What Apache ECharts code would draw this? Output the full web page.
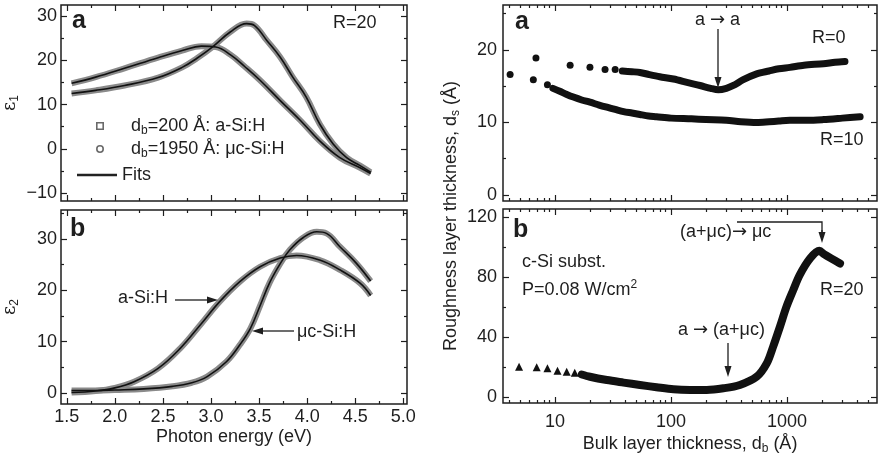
<!DOCTYPE html>
<html>
<head>
<meta charset="utf-8">
<script src="https://cdn.jsdelivr.net/npm/echarts@6/dist/echarts.min.js"></script>
<style>
  html, body { margin: 0; padding: 0; background: #fff; }
  #chart { width: 880px; height: 461px; }
</style>
</head>
<body>
<div id="chart"></div>
<script>
// left panels: [photon energy (eV), epsilon]
const eps1ASi = [[1.55, 14.8], [1.8, 16.2], [2.1, 18.2], [2.45, 20.6], [2.7, 22.2], [2.9, 23.2], [3.05, 23.0], [3.2, 21.3], [3.35, 18.6], [3.51, 15.5], [3.72, 10.9], [3.93, 6.4], [4.13, 1.8], [4.34, -2.0], [4.55, -4.3], [4.66, -5.6]];
const eps1UcSi = [[1.55, 12.5], [1.8, 13.2], [2.1, 14.3], [2.45, 16.1], [2.7, 18.4], [2.85, 20.4], [3.02, 23.1], [3.2, 26.4], [3.37, 28.3], [3.45, 27.9], [3.58, 24.5], [3.72, 20.7], [3.85, 16.2], [3.99, 11.7], [4.13, 5.6], [4.27, 1.1], [4.41, -2.0], [4.55, -3.8], [4.66, -5.3]];
const eps2ASi = [[1.55, 0.1], [1.8, 0.4], [2.0, 1.0], [2.2, 2.2], [2.45, 4.8], [2.68, 8.7], [2.89, 13.3], [3.09, 17.8], [3.3, 21.7], [3.51, 24.6], [3.72, 26.3], [3.89, 26.8], [4.13, 25.9], [4.34, 24.0], [4.55, 21.4], [4.66, 19.0]];
const eps2UcSi = [[1.55, 0.5], [1.8, 0.5], [2.0, 0.6], [2.3, 0.8], [2.6, 1.3], [2.8, 2.0], [2.96, 3.2], [3.16, 6.1], [3.3, 9.4], [3.41, 12.6], [3.51, 17.0], [3.61, 21.5], [3.72, 25.2], [3.82, 27.9], [3.96, 30.3], [4.1, 31.4], [4.2, 31.1], [4.34, 28.5], [4.51, 25.3], [4.66, 21.8]];

// right panels: [bulk thickness d_b (Å), roughness d_s (Å)]
const r0Sparse = [[6.85, 18.9], [13.5, 17.9], [20, 17.6], [27, 17.3], [33, 17.3]];
const r0Dense = [[38, 17.1], [46, 17.0], [54, 16.9], [65, 16.6], [80, 16.3], [105, 16.0], [140, 15.5], [178, 15.1], [220, 14.7], [256, 14.5], [300, 14.7], [345, 15.1], [420, 15.9], [548, 16.7], [700, 17.1], [850, 17.4], [1060, 17.6], [1400, 17.9], [2060, 18.1], [2600, 18.3], [3160, 18.4]];
const r10Sparse = [[4.1, 16.6], [6.5, 15.9], [8.6, 15.2]];
const r10Dense = [[9.6, 14.7], [11, 14.3], [12.5, 13.9], [14.4, 13.5], [17, 13.1], [20, 12.8], [24, 12.4], [28, 12.1], [33, 11.8], [39, 11.5], [46, 11.3], [54, 11.1], [64, 10.9], [75, 10.8], [100, 10.6], [150, 10.5], [200, 10.4], [300, 10.3], [400, 10.1], [550, 10.0], [700, 10.1], [850, 10.2], [1060, 10.3], [1500, 10.3], [2060, 10.4], [3000, 10.6], [4270, 10.8]];
const r20Sparse = [[4.9, 20.2], [6.95, 19.8], [8.6, 19.1], [10.5, 17.5], [12.6, 16.9], [14.8, 16.2]];
const r20Dense = [[17, 15.0], [20, 13.5], [28, 11.3], [39, 9.6], [54, 8.0], [75, 6.5], [105, 5.1], [146, 4.7], [203, 4.7], [283, 5.8], [392, 8.0], [548, 13.5], [669, 22.4], [759, 33.5], [870, 46.9], [990, 60.2], [1132, 71.3], [1285, 81.3], [1585, 92.5], [1900, 97.5], [2100, 95.0], [2865, 89.0]];

// ticks
const energyMajor = [1.5, 2.0, 2.5, 3.0, 3.5, 4.0, 4.5, 5.0];
const energyMinor = [1.75, 2.25, 2.75, 3.25, 3.75, 4.25, 4.75];
const eps1Major = [-10, 0, 10, 20, 30];
const eps1Minor = [-5, 5, 15, 25];
const eps2Major = [0, 10, 20, 30];
const eps2Minor = [5, 15, 25, 35];
const thickMajor = [10, 100, 1000];
const thickMinor = [4, 5, 6, 7, 8, 9, 20, 30, 40, 50, 60, 70, 80, 90, 200, 300, 400, 500, 600, 700, 800, 900, 2000, 3000, 4000, 5000];
const roughAMajor = [0, 10, 20];
const roughAMinor = [5, 15, 25];
const roughBMajor = [0, 40, 80, 120];
const roughBMinor = [20, 60, 100];

const INK = '#1e1e1e';
const FONT = '"Liberation Sans", Arial, sans-serif';
const SUB = { fontSize: 12, fontFamily: FONT, color: INK, padding: [10, 0, 0, 0] };
const SUP = { fontSize: 12, fontFamily: FONT, color: INK, padding: [0, 0, 10, 0] };
const N = { fontSize: 18, fontFamily: FONT, color: INK };
const ARR = { fontSize: 18, fontFamily: '"DejaVu Sans", sans-serif', color: INK };

const chart = echarts.init(document.getElementById('chart'));

const grids = [
  { left: 61, top: 5, width: 346, height: 196 },
  { left: 61, top: 210, width: 346, height: 194 },
  { left: 503, top: 5, width: 374, height: 196 },
  { left: 503, top: 209, width: 374, height: 194 },
].map(g => Object.assign(g, {
  show: true, borderColor: INK, borderWidth: 1.5, containLabel: false, outerBoundsMode: 'none',
}));

const xAxes = [];
const yAxes = [];
const minus = v => String(v).replace('-', '\u2212');

// every side of a frame gets inward major + minor ticks; only the first side carries labels
function frame(list, grid, base, sides, major, minor, label, name) {
  sides.forEach((pos, i) => {
    const main = i === 0;
    list.push(Object.assign({}, base, {
      gridIndex: grid,
      position: pos,
      axisLine: { show: false, onZero: false },
      splitLine: { show: false },
      axisTick: { show: true, inside: true, length: 6, customValues: major, lineStyle: { color: INK, width: 1.2 } },
      axisLabel: main && label
        ? Object.assign({ show: true, customValues: major, color: INK, fontSize: 18, fontFamily: FONT }, label)
        : { show: false },
    }, main && name ? name : {}));
    list.push(Object.assign({}, base, {
      gridIndex: grid,
      position: pos,
      axisLine: { show: false, onZero: false },
      splitLine: { show: false },
      axisTick: { show: true, inside: true, length: 3, customValues: minor, lineStyle: { color: INK, width: 1.2 } },
      axisLabel: { show: false },
    }));
  });
}

const energyAxis = { type: 'value', min: 1.44, max: 5.038 };
const thickAxis = { type: 'log', logBase: 10, min: 3.56, max: 5970 };

// grid 0: eps1
frame(xAxes, 0, energyAxis, ['bottom', 'top'], energyMajor, energyMinor, null, null);
frame(yAxes, 0, { type: 'value', min: -11.8, max: 32.5 }, ['left', 'right'], eps1Major, eps1Minor,
  { margin: 4, formatter: minus },
  { name: '{e|\u03b5}{s|1}', nameLocation: 'middle', nameRotate: 90, nameGap: 40,
    nameTextStyle: { rich: { e: { fontSize: 18, fontFamily: '"DejaVu Serif", serif', color: INK }, s: SUB } } });
// grid 1: eps2
frame(xAxes, 1, energyAxis, ['bottom', 'top'], energyMajor, energyMinor,
  { margin: 4, formatter: v => v.toFixed(1) },
  { name: 'Photon energy (eV)', nameLocation: 'middle', nameGap: 24,
    nameTextStyle: { fontSize: 18, fontFamily: FONT, color: INK } });
frame(yAxes, 1, { type: 'value', min: -2.14, max: 35.65 }, ['left', 'right'], eps2Major, eps2Minor,
  { margin: 4 },
  { name: '{e|\u03b5}{s|2}', nameLocation: 'middle', nameRotate: 90, nameGap: 40,
    nameTextStyle: { rich: { e: { fontSize: 18, fontFamily: '"DejaVu Serif", serif', color: INK }, s: SUB } } });
// grid 2: roughness, R=0 / R=10
frame(xAxes, 2, thickAxis, ['bottom', 'top'], thickMajor, thickMinor, null, null);
frame(yAxes, 2, { type: 'value', min: -0.83, max: 26.2 }, ['left', 'right'], roughAMajor, roughAMinor,
  { margin: 6 }, null);
// grid 3: roughness, R=20
frame(xAxes, 3, thickAxis, ['bottom', 'top'], thickMajor, thickMinor,
  { margin: 10, formatter: v => String(Math.round(v)) },
  { name: '{n|Bulk layer thickness, d}{s|b}{n| (\u00c5)}', nameLocation: 'middle', nameGap: 30,
    nameTextStyle: { rich: { n: N, s: SUB } } });
frame(yAxes, 3, { type: 'value', min: -4, max: 125.3 }, ['left', 'right'], roughBMajor, roughBMinor,
  { margin: 6 }, null);

// measured spectra: grey band of open markers, fit drawn on top in black
function band(name, data, grid) {
  return {
    type: 'line', name, data, xAxisIndex: grid * 4, yAxisIndex: grid * 4, smooth: 0.4,
    showSymbol: false, itemStyle: { color: '#6a6a6a' },
    lineStyle: { color: '#8a8a8a', width: 6 },
    z: 2,
  };
}
function fit(data, grid) {
  return {
    type: 'line', name: 'Fits', data, xAxisIndex: grid * 4, yAxisIndex: grid * 4, smooth: 0.4,
    showSymbol: false, itemStyle: { color: '#111' }, lineStyle: { color: '#111', width: 1.6 }, z: 5,
  };
}
function dots(name, data, grid, symbol, size) {
  return {
    type: 'scatter', name, data, xAxisIndex: grid * 4, yAxisIndex: grid * 4,
    symbol, symbolSize: size, itemStyle: { color: '#111', opacity: 1 },
  };
}
function dense(name, data, grid, width) {
  return {
    type: 'line', name, data, xAxisIndex: grid * 4, yAxisIndex: grid * 4, smooth: 0.3,
    showSymbol: false, lineStyle: { color: '#111', width, cap: 'round', join: 'round' },
  };
}

const series = [
  band('d200', eps1ASi, 0),
  band('d1950', eps1UcSi, 0),
  fit(eps1ASi, 0),
  fit(eps1UcSi, 0),
  band('e2a', eps2ASi, 1),
  band('e2uc', eps2UcSi, 1),
  fit(eps2ASi, 1),
  fit(eps2UcSi, 1),
  dots('R=0', r0Sparse, 2, 'circle', 7),
  dense('R=0', r0Dense, 2, 7),
  dots('R=10', r10Sparse, 2, 'circle', 7),
  dense('R=10', r10Dense, 2, 7),
  dots('R=20', r20Sparse, 3, 'triangle', 8),
  dense('R=20', r20Dense, 3, 8),
];

const squareIcon = 'path://M0,0H10V10H0Z M2,2V8H8V2Z';
const ringIcon = 'path://M5,0A5,5 0 1,1 5,10A5,5 0 1,1 5,0Z M5,2A3,3 0 1,0 5,8A3,3 0 1,0 5,2Z';
const legendText = {
  d200: '{p|d}{s|b}{n|=200 \u00c5: a-Si:H}',
  d1950: '{p|d}{s|b}{n|=1950 \u00c5: \u03bcc-Si:H}',
  Fits: '{n|Fits}',
};
function legend(name, icon, color, left, top, w, h) {
  return {
    data: [{ name, icon, itemStyle: { color, borderWidth: 0 } }],
    left, top, padding: 0, itemWidth: w, itemHeight: h, selectedMode: false,
    formatter: n => legendText[n],
    textStyle: { rich: { n: N, s: SUB, p: Object.assign({}, N, { padding: [0, 0, 0, 11] }) } },
  };
}
const legends = [
  legend('d200', squareIcon, '#6a6a6a', 96, 117, 30, 8),
  legend('d1950', ringIcon, '#6a6a6a', 96, 140, 30, 8),
  legend('Fits', 'rect', '#222', 77, 166, 40, 2.5),
];

function txt(x, y, text, extra) {
  return {
    type: 'text', x, y, z: 10,
    style: Object.assign({ text, fontSize: 18, fontFamily: FONT, fill: INK, verticalAlign: 'middle' }, extra || {}),
  };
}
function arrow(x1, y1, x2, y2) {
  const len = Math.hypot(x2 - x1, y2 - y1);
  const ux = (x2 - x1) / len, uy = (y2 - y1) / len;
  const bx = x2 - ux * 11, by = y2 - uy * 11;
  return [
    { type: 'line', z: 10, shape: { x1, y1, x2: bx, y2: by }, style: { stroke: INK, lineWidth: 1.3 } },
    { type: 'polygon', z: 10, shape: { points: [[x2, y2], [bx - uy * 3.5, by + ux * 3.5], [bx + uy * 3.5, by - ux * 3.5]] }, style: { fill: INK } },
  ];
}
const bold = { fontSize: 25, fontWeight: 'bold' };
const richArrow = { rich: { n: N, r: ARR } };

const yTitle = txt(451, 216, '{n|Roughness layer thickness, d}{s|s}{n| (\u00c5)}',
  { rich: { n: N, s: SUB }, align: 'center', verticalAlign: 'middle' });
yTitle.rotation = Math.PI / 2;

const graphic = [
  txt(72, 21, 'a', bold),
  txt(333, 23, 'R=20'),
  txt(70, 229, 'b', bold),
  txt(118, 298, 'a-Si:H'),
  ...arrow(175, 300, 218, 300),
  txt(297, 332, '\u03bcc-Si:H'),
  ...arrow(294, 331, 252, 331),
  txt(515, 22, 'a', bold),
  txt(695, 20, '{n|a }{r|\u2192}{n| a}', richArrow),
  ...arrow(718, 29, 718, 88),
  txt(812, 38, 'R=0'),
  txt(820, 140, 'R=10'),
  txt(513, 230, 'b', bold),
  txt(680, 232, '{n|(a+\u03bcc)}{r|\u2192}{n| \u03bcc}', richArrow),
  { type: 'polyline', z: 10, shape: { points: [[737, 222], [822, 222], [822, 232]] }, style: { stroke: INK, lineWidth: 1.3, fill: null } },
  ...arrow(822, 230, 822, 243),
  txt(522, 262, 'c-Si subst.'),
  txt(522, 290, '{n|P=0.08 W/cm}{p|2}', { rich: { n: N, p: SUP } }),
  txt(820, 290, 'R=20'),
  txt(678, 330, '{n|a }{r|\u2192}{n| (a+\u03bcc)}', richArrow),
  ...arrow(728, 343, 728, 377),
  yTitle,
];

chart.setOption({
  animation: false,
  backgroundColor: '#fff',
  grid: grids,
  xAxis: xAxes,
  yAxis: yAxes,
  legend: legends,
  graphic,
  series,
});
</script>
</body>
</html>
